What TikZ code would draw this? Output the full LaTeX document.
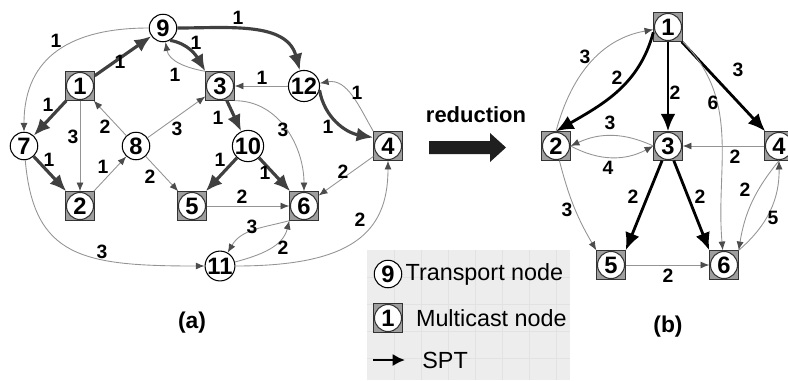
\documentclass[tikz,border=0pt]{standalone}
\usepackage{fontspec}
\setmainfont{Liberation Sans}
\usetikzlibrary{arrows.meta,positioning}

\definecolor{linkgray}{gray}{0.58}
\definecolor{tipgray}{gray}{0.3}
\definecolor{sptgray}{gray}{0.25}
\definecolor{boxgray}{gray}{0.62}
\definecolor{legendgray}{gray}{0.93}
\definecolor{gridgray}{gray}{0.885}
\newcommand{\nodefont}{\fontsize{13.5}{15}\selectfont\bfseries}
\newcommand{\costfont}{\fontsize{11}{13}\selectfont\bfseries}
\newcommand{\legendfont}{\fontsize{13.3}{15}\selectfont}

\begin{document}
\begin{tikzpicture}[x=0.02cm,y=-0.02cm]
% node shapes and edge styles
\tikzstyle{transport}=[circle,draw=black,fill=white,line width=0.6pt,minimum size=0.55cm,inner sep=0pt,font=\nodefont]
\tikzstyle{multicast}=[rectangle,draw=black!80,fill=boxgray,line width=0.5pt,minimum size=0.57cm,inner sep=0pt,font=\nodefont,
  path picture={\draw[fill=white,line width=0.6pt] (path picture bounding box.center) circle (0.27cm);}]
\tikzstyle{link}=[->,>={Latex[length=5pt,width=4pt,color=tipgray]},draw=linkgray,line width=0.5pt]
\tikzstyle{spta}=[->,>={Latex[length=9.5pt,width=8pt]},draw=sptgray,line width=1.8pt]
\tikzstyle{sptb}=[->,>={Latex[length=10pt,width=8.5pt]},draw=black,line width=1.6pt]
\tikzstyle{cost}=[inner sep=0pt,font=\costfont]
\tikzstyle{caption}=[font=\fontsize{13}{15}\selectfont\bfseries]
\tikzstyle{legendtext}=[inner sep=0pt,font=\legendfont]

\useasboundingbox (0,0) rectangle (788,380);

% legend background
\fill[legendgray] (367,250) rectangle (570,380);
\foreach \x in {394,421,...,570}
\draw[gridgray,line width=0.3pt] (\x,250) -- (\x,380);
\foreach \y in {277,304,...,380}
\draw[gridgray,line width=0.3pt] (367,\y) -- (570,\y);

% nodes of (a)
\foreach \name/\x/\y in {7/24/146, 8/136/146, 9/163/28, 10/248/146, 11/220/266, 12/304/86}
\node[transport] (a-\name) at (\x,\y) {\name};
\foreach \name/\x/\y in {1/80/86, 2/80/206, 3/220/86, 4/388/146, 5/192/206, 6/304/206}
\node[multicast] (a-\name) at (\x,\y) {\name};

% nodes of (b)
\foreach \name/\x/\y in {1/668/27, 2/556/146, 3/668/146, 4/779/146, 5/611/265, 6/724/265}
\node[multicast] (b-\name) at (\x,\y) {\name};

% shortest path tree of (a)
\foreach \from/\to in {1/9,1/7,7/2,3/10,10/5,10/6}
\draw[spta] (a-\from) -- (a-\to);
\draw[spta] (a-9.-60) to[out=-10,in=120] (a-3.north west);
\draw[spta] (a-9) to[out=0,in=105] (a-12);
\draw[spta] (a-12.-15) to[out=-80,in=170] (a-4.150);

% other links of (a)
\foreach \from/\to in {1/2,8/1,2/8,8/3,8/5,12/3,4/6,5/6}
\draw[link] (a-\from) -- (a-\to);
\draw[link] (a-9) to[out=180,in=90,looseness=1.2] (a-7);
\draw[link] (a-3.north west) to[out=170,in=-80] (a-9);
\draw[link] (a-3.south east) to[out=0,in=90] (a-6);
\draw[link] (a-4.north west) to[out=120,in=10] (a-12);
\draw[link] (a-6.south west) to[out=195,in=60] (a-11);
\draw[link] (a-11) to[out=15,in=-104] (a-6.south west);
\draw[link] (a-11) to[out=0,in=-90,out looseness=1.6] (a-4);
\draw[link] (a-7) to[out=-85,in=180,out looseness=1.2,in looseness=1.5] (a-11);

% shortest path tree of (b)
\foreach \from/\to in {1/3,1/4}
\draw[sptb] (b-\from) -- (b-\to);
\draw[sptb] (b-3) -- (b-5.north east);
\draw[sptb] (b-3) -- (b-6.north west);
\draw[sptb] (b-1.200) to[out=-105,in=30] (b-2.north);

% other links of (b)
\foreach \from/\to in {4/3,5/6}
\draw[link] (b-\from) -- (b-\to);
\draw[link] (b-2.north) to[out=75,in=190] (b-1);
\draw[link] (b-3.west) to[bend right=25] (b-2.east);
\draw[link] (b-2.east) to[bend right=28] (b-3.west);
\draw[link] (b-1) to[out=-45,in=95] (b-6);
\draw[link] (b-2) to[bend right=8] (b-5.north west);
\draw[link] (b-4.south) to[bend right=15] (b-6.north east);
\draw[link] (b-6.north east) to[bend right=25] (b-4.south);

% link costs
\foreach \name/\x/\y/\w in {1/120/62/1, 2/48/105/1, 3/49/160/1, 4/56/41/1, 5/196/43/1,
  6/175/75/1, 7/238/18/1, 8/73/137/3, 9/105/127/2, 10/103/167/1, 11/177/129/3,
  12/150/177/2, 13/218/118/1, 14/220/160/1, 15/265/173/1, 16/262/78/1, 17/283/130/3,
  18/357/93/1, 19/328/127/1, 20/343/172/2, 21/242/197/2, 22/252/227/3, 23/283/248/2,
  24/360/220/2, 25/102/252/3}
\node[cost] (ca-\name) at (\x,\y) {\w};
\foreach \name/\x/\y/\w in {1/585/57/3, 2/617/78/2, 3/675/93/2, 4/738/70/3, 5/713/103/6,
  6/610/123/3, 7/608/168/4, 8/735/157/2, 9/633/197/2, 10/700/197/2, 11/567/210/3,
  12/668/276/2, 13/745/190/2, 14/773/218/5}
\node[cost] (cb-\name) at (\x,\y) {\w};

% reduction arrow
\node[caption,font=\fontsize{12.5}{14}\selectfont\bfseries] (reduce) at (476,115) {reduction};
\fill[black!88] (429,141) -- (490,141) -- (490,133) -- (506,147.5) -- (490,162) -- (490,154) -- (429,154) -- cycle;

% captions
\node[caption] (cap-a) at (192,323) {(a)};
\node[caption] (cap-b) at (668,327) {(b)};

% legend
\node[transport] (leg-9) at (388,274) {9};
\node[legendtext,right=0.06cm of leg-9] (leg-transport) {Transport node};
\node[multicast] (leg-1) at (388,318) {1};
\node[legendtext,right=0.26cm of leg-1] (leg-multicast) {Multicast node};
\coordinate (spt-from) at (373,360);
\coordinate (spt-to) at (405,360);
\draw[sptb,>={Latex[length=7pt,width=7pt]}] (spt-from) -- (spt-to);
\node[legendtext,right=0.34cm of spt-to] (leg-spt) {SPT};
\end{tikzpicture}
\end{document}
